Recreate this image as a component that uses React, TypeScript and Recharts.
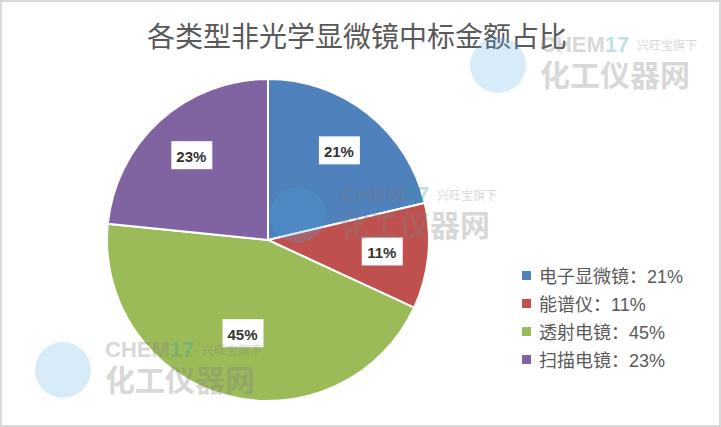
import React from 'react';
import { PieChart, Pie, Cell, Legend } from 'recharts';

// 各类型非光学显微镜中标金额占比
const categories = ['电子显微镜', '能谱仪', '透射电镜', '扫描电镜'];
const shares = [21.3, 10.6, 44.7, 23.4];
const colors = ['#4f81bd', '#c0504d', '#9bbb59', '#8064a2'];

const chartData = categories.map((name, i) => ({ name, value: shares[i] }));

const FONT = '"Liberation Sans", Arial, "Noto Sans CJK SC", sans-serif';

const renderLabel = ({ cx, cy, midAngle, outerRadius, percent }: any) => {
  const RADIAN = Math.PI / 180;
  // 大扇区的标签放得更靠近圆心
  const r = outerRadius * (percent > 0.4 ? 0.6 : 0.71);
  const x = cx + r * Math.cos(-midAngle * RADIAN);
  const y = cy + r * Math.sin(-midAngle * RADIAN);
  return (
    <g>
      <rect x={x - 20} y={y - 14} width={41} height={28} fill="#ffffff" />
      <text
        x={x}
        y={y + 1}
        textAnchor="middle"
        dominantBaseline="central"
        fontSize={15}
        fontWeight="bold"
        fontFamily={FONT}
        fill="#333333"
      >
        {`${Math.round(percent * 100)}%`}
      </text>
    </g>
  );
};

const renderLegend = () => (
  <div style={{ fontFamily: FONT, fontSize: 18, color: '#595959' }}>
    {chartData.map((d, i) => (
      <div key={d.name} style={{ display: 'flex', alignItems: 'center', height: 28 }}>
        <span style={{ width: 9, height: 9, background: colors[i], marginRight: 8, display: 'inline-block' }} />
        <span>{`${d.name}：${Math.round(d.value)}%`}</span>
      </div>
    ))}
  </div>
);

// 水印
const Watermark = ({ x, y }: { x: number; y: number }) => (
  <g>
    <circle cx={x - 42} cy={y + 13} r={28} fill="#4aa8e0" opacity={0.22} />
    <text x={x} y={y} fontSize={22} fontWeight="bold" fontFamily={FONT} fill="#7f7f7f" opacity={0.3}>
      CHEM<tspan fill="#2aa0a0">17</tspan>
    </text>
    <text x={x + 97} y={y - 2} fontSize={12} fontFamily={FONT} fill="#7f7f7f" opacity={0.3}>
      兴旺宝旗下
    </text>
    <text x={x} y={y + 34} fontSize={30} fontWeight="bold" fontFamily={FONT} fill="#7f7f7f" opacity={0.3}>
      化工仪器网
    </text>
  </g>
);

export default function App() {
  return (
    <div
      style={{
        position: 'absolute',
        left: 0,
        top: 0,
        width: 721,
        height: 427,
        background: '#ffffff',
        border: '2px solid #d9d9d9',
        boxSizing: 'border-box',
      }}
    >
      <div style={{ position: 'absolute', left: -2, top: -2 }}>
        <PieChart width={721} height={427} margin={{ top: 0, right: 0, bottom: 0, left: 0 }}>
          <Pie
            data={chartData}
            dataKey="value"
            nameKey="name"
            cx={268}
            cy={240}
            outerRadius={161}
            startAngle={90}
            endAngle={-270}
            stroke="#ffffff"
            strokeWidth={2}
            label={renderLabel}
            labelLine={false}
            isAnimationActive={false}
          >
            {chartData.map((entry, index) => (
              <Cell key={`cell-${index}`} fill={colors[index]} />
            ))}
          </Pie>
          <Legend content={renderLegend} wrapperStyle={{ left: 522, top: 261, width: 190, bottom: 'auto' }} />
        </PieChart>
      </div>
      <svg
        width={721}
        height={427}
        style={{ position: 'absolute', left: -2, top: -2, pointerEvents: 'none' }}
      >
        <text x={357} y={47} textAnchor="middle" fontSize={28} fontFamily={FONT} fill="#595959">
          各类型非光学显微镜中标金额占比
        </text>
        <Watermark x={105} y={357} />
        <Watermark x={340} y={202} />
        <Watermark x={540} y={52} />
      </svg>
    </div>
  );
}
